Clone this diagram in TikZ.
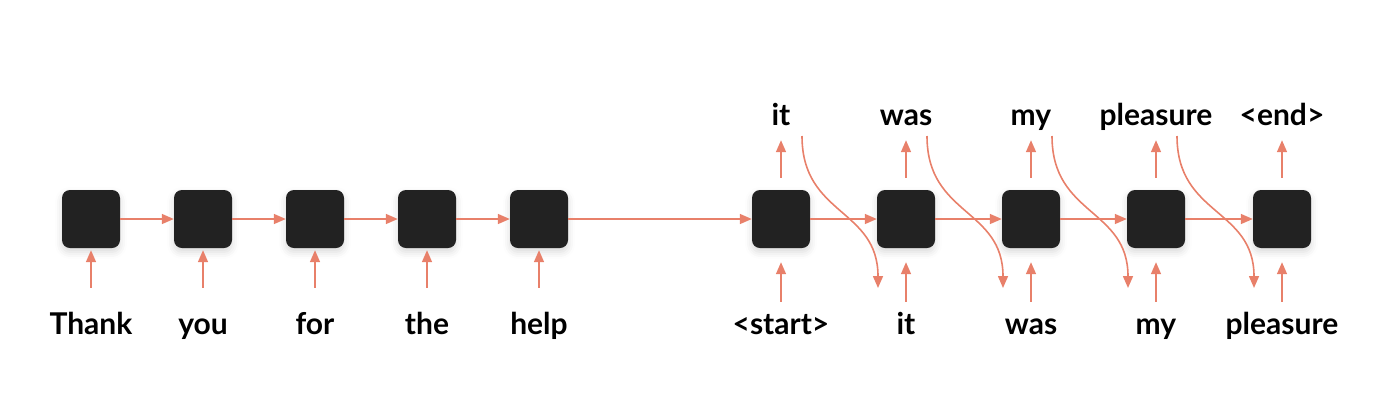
\documentclass[tikz,border=0pt]{standalone}
\usepackage{fontspec}
\setmainfont{Lato}
\usetikzlibrary{arrows.meta,shadows.blur}

\definecolor{cellgray}{RGB}{34,34,34}
\definecolor{arrowred}{RGB}{232,128,106}

\tikzset{
	cell/.style={fill=cellgray, rounded corners=8pt, minimum size=58pt, inner sep=0pt,
		blur shadow={shadow xshift=0pt, shadow yshift=-4pt, shadow blur radius=7pt, shadow opacity=15}},
	word/.style={font=\fontsize{30}{36}\selectfont\bfseries, inner sep=0pt, text height=22pt, text depth=7pt, anchor=base},
	link/.style={draw=arrowred, line width=1.6pt, -{Triangle[length=12pt,width=10pt]}},
}

\begin{document}
\begin{tikzpicture}[x=1pt, y=-1pt]
	\useasboundingbox (0,0) rectangle (1400,408);

	% encoder
	\node[cell] (e1) at (91,219) {};
	\node[cell] (e2) at (203,219) {};
	\node[cell] (e3) at (315,219) {};
	\node[cell] (e4) at (427,219) {};
	\node[cell] (e5) at (539,219) {};
	\node[word] (x1) at (91,334) {Thank};
	\node[word] (x2) at (203,334) {you};
	\node[word] (x3) at (315,334) {for};
	\node[word] (x4) at (427,334) {the};
	\node[word] (x5) at (539,334) {help};

	% decoder
	\node[cell] (d1) at (781,219) {};
	\node[cell] (d2) at (906,219) {};
	\node[cell] (d3) at (1031,219) {};
	\node[cell] (d4) at (1156,219) {};
	\node[cell] (d5) at (1282,219) {};
	\node[word] (y1) at (781,334) {<start>};
	\node[word] (y2) at (906,334) {it};
	\node[word] (y3) at (1031,334) {was};
	\node[word] (y4) at (1156,334) {my};
	\node[word] (y5) at (1282,334) {pleasure};
	\node[word] (o1) at (781,125) {it};
	\node[word] (o2) at (906,125) {was};
	\node[word] (o3) at (1031,125) {my};
	\node[word] (o4) at (1156,125) {pleasure};
	\node[word] (o5) at (1282,125) {<end>};

	% hidden state
	\draw[link] (e1.east) -- (e2.west);
	\draw[link] (e2.east) -- (e3.west);
	\draw[link] (e3.east) -- (e4.west);
	\draw[link] (e4.east) -- (e5.west);
	\draw[link] (e5.east) -- (d1.west);
	\draw[link] (d1.east) -- (d2.west);
	\draw[link] (d2.east) -- (d3.west);
	\draw[link] (d3.east) -- (d4.west);
	\draw[link] (d4.east) -- (d5.west);

	% inputs
	\foreach \i in {1,...,5}
		\draw[link, shorten <=24pt, shorten >=2pt] (x\i.north) -- (e\i.south);
	\foreach \i in {1,...,5}
		\draw[link, shorten <=10pt, shorten >=14pt] (y\i.north) -- (d\i.south);

	% outputs
	\foreach \i in {1,...,5}
		\draw[link, shorten <=12pt, shorten >=8pt] (d\i.north) -- (o\i.south);

	% feed back
	\foreach \i/\j in {1/2,2/3,3/4,4/5} {
		\coordinate (s\i) at ([xshift=21pt] d\i.center |- 0,136);
		\coordinate (t\i) at ([xshift=-28pt] d\j.center |- 0,288);
		\draw[link] (s\i) .. controls +(0,80) and +(0,-80) .. (t\i);
	}
\end{tikzpicture}
\end{document}
